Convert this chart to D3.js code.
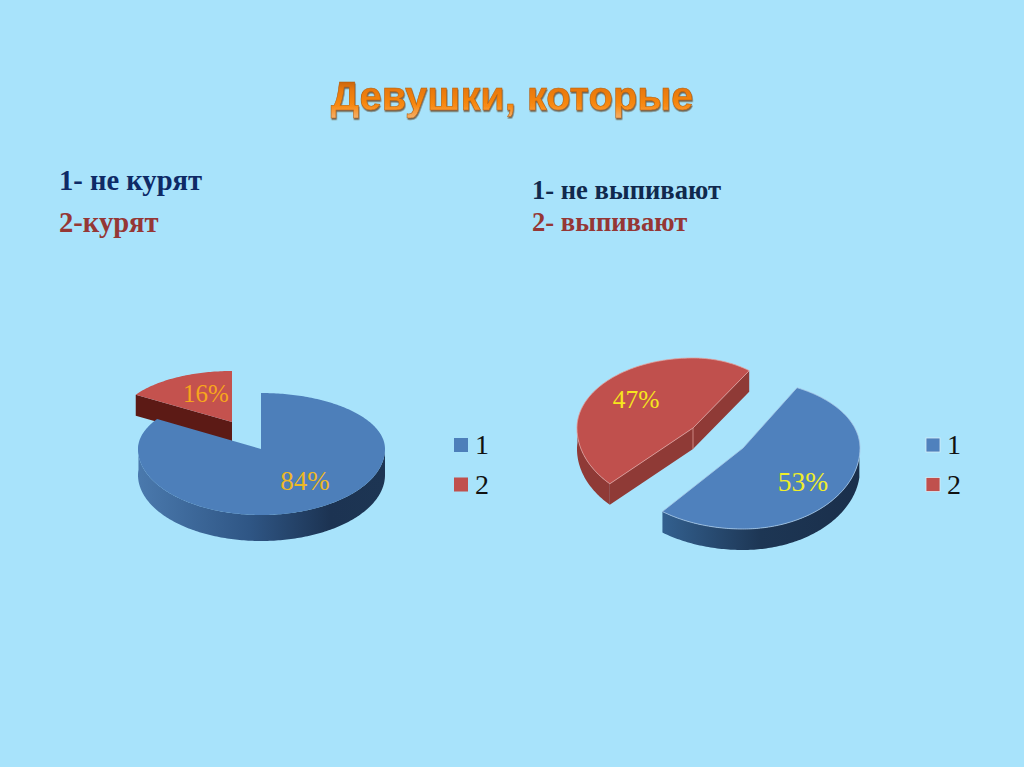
<!DOCTYPE html>
<html><head><meta charset="utf-8">
<script src="https://cdnjs.cloudflare.com/ajax/libs/d3/7.8.5/d3.min.js"></script>
<style>html,body{margin:0;padding:0;background:#a8e3fb;overflow:hidden}svg{display:block}</style>
</head><body><div id="c"></div>
<script>
const titleText = "Девушки, которые";
const categories = ["1", "2"];
const smokingValues = [84, 16];
const drinkingValues = [53, 47];
const smokingNotes = ["1- не курят", "2-курят"];
const drinkingNotes = ["1- не выпивают", "2- выпивают"];

const W = 1024, H = 767, rad = Math.PI / 180;
const svg = d3.select("#c").append("svg").attr("width", W).attr("height", H);
const defs = svg.append("defs");
function grad(id, stops, vertical) {
  const g = defs.append("linearGradient").attr("id", id).attr("x1", 0).attr("y1", 0)
    .attr("x2", vertical ? 0 : 1).attr("y2", vertical ? 1 : 0);
  stops.forEach(s => g.append("stop").attr("offset", s[0]).attr("stop-color", s[1]));
}
grad("wall1", [[0, "#4a79ad"], [.45, "#2f5685"], [.78, "#1c3352"], [1, "#1d3553"]]);
grad("wall2", [[0, "#33608f"], [.5, "#1d3654"], [1, "#1a2f4b"]]);
grad("titleFill", [[0, "#a9530f"], [.35, "#e8780e"], [.72, "#f98a12"], [1, "#f3b06c"]], true);
const f = defs.append("filter").attr("id", "ts").attr("x", "-5%").attr("y", "-20%").attr("width", "110%").attr("height", "150%");
f.append("feDropShadow").attr("dx", .6).attr("dy", 1.6).attr("stdDeviation", .7).attr("flood-color", "#5c3a1a").attr("flood-opacity", .75);

svg.append("rect").attr("width", W).attr("height", H).attr("fill", "#a8e3fb");

svg.append("text").attr("x", 512).attr("y", 110).attr("text-anchor", "middle")
  .attr("font-family", "Liberation Sans").attr("font-weight", 700).attr("font-size", 39.8)
  .attr("fill", "url(#titleFill)").attr("stroke", "#b5600f").attr("stroke-width", .5)
  .attr("filter", "url(#ts)").text(titleText);

function notes(list, x, ys, size, colors) {
  svg.selectAll(null).data(list).join("text")
    .attr("x", x).attr("y", (d, i) => ys[i])
    .attr("font-family", "Liberation Serif").attr("font-weight", 700).attr("font-size", size)
    .attr("fill", (d, i) => colors[i]).text(d => d);
}
notes(smokingNotes, 59, [190, 232], 28.6, ["#0e2a66", "#953735"]);
notes(drinkingNotes, 532, [199, 231], 26.6, ["#10294d", "#953735"]);

const line = d3.line();
const pie = d3.pie().sort(null).startAngle(0).endAngle(2 * Math.PI);

// one projected slice: g carries the ellipse half-axes that foreshorten the disc
function proj(g) {
  const sx = d3.scaleLinear().domain([-1, 0, 1]).range([g.x - g.rxL, g.x, g.x + g.rxR]);
  const sy = d3.scaleLinear().domain([-1, 0, 1]).range([g.y + g.ryB, g.y, g.y - g.ryT]);
  return a => [sx(Math.sin(a)), sy(Math.cos(a))];
}
function arcPts(p, a0, a1) {
  const n = Math.max(2, Math.ceil(Math.abs(a1 - a0) / (1 * rad)));
  return d3.range(n + 1).map(i => p(a0 + (a1 - a0) * i / n));
}
const down = (pts, d) => pts.map(q => [q[0], q[1] + d]);
function wall(top, d, fill) {
  svg.append("path").attr("d", line(top.concat(down(top, d).reverse())) + "Z").attr("fill", fill);
}

function slice(datum, g) {
  const p = proj(g), a0 = datum.startAngle + g.rot * rad, a1 = datum.endAngle + g.rot * rad;
  const apex = [g.x, g.y], A = p(a0), B = p(a1);
  if (g.cutWall) wall([A, apex, B].slice(g.cutFrom || 0), g.depth, g.cutWall);
  (g.outer || []).forEach(o => {
    const lo = Math.max(a0, o[0] * rad), hi = Math.min(a1, o[1] * rad);
    wall(arcPts(p, lo, hi), g.depth, o[2]);
  });
  if (g.cutWall && g.apexLine)
    svg.append("path").attr("d", line([apex, [apex[0], apex[1] + g.depth]])).attr("stroke", "#d99a96").attr("stroke-width", .8).attr("fill", "none");
  const outline = [apex].concat(arcPts(p, a0, a1));
  svg.append("path").attr("d", line(outline) + "Z").attr("fill", g.fill)
    .attr("stroke", g.edge || "none").attr("stroke-width", g.edge ? .8 : 0).attr("stroke-linejoin", "round");
}

const sPie = pie(smokingValues), dPie = pie(drinkingValues);

// left chart
slice(sPie[1], { x: 232, y: 422, rxL: 114, rxR: 114, ryT: 51, ryB: 51, rot: 0, depth: 21,
  fill: "#c4524e", cutWall: "#5c1a15" });
slice(sPie[0], { x: 261, y: 449, rxL: 123, rxR: 124, ryT: 56, ryB: 66, rot: 0, depth: 26,
  fill: "#4d7fba", outer: [[90, 275, "url(#wall1)"]] });

// right chart
slice(dPie[1], { x: 693, y: 428, rxL: 116, rxR: 98, ryT: 70, ryB: 80, rot: 35, depth: 21,
  fill: "#c0504d", edge: "#e2a19d", cutWall: "#8f3a36", apexLine: true, outer: [[200, 275, "#8f3a36"]] });
slice(dPie[0], { x: 743, y: 448, rxL: 130, rxR: 117, ryT: 68, ryB: 81, rot: 27.5, depth: 21,
  fill: "#4f81bd", edge: "#a9c8e6", outer: [[96, 225, "url(#wall2)"]] });

function pct(v, x, y, size, color) {
  svg.append("text").attr("x", x).attr("y", y).attr("text-anchor", "middle")
    .attr("font-family", "Liberation Serif").attr("font-size", size).attr("fill", color).text(v + "%");
}
pct(smokingValues[0], 305, 490, 27, "#eeb827");
pct(smokingValues[1], 206, 402, 25, "#f7a61c");
pct(drinkingValues[1], 636, 408, 25.5, "#f6e61d");
pct(drinkingValues[0], 803, 491, 27.5, "#f0ee2a");

function legend(x, colors, stroke) {
  const y = d3.scalePoint().domain(categories).range([445, 484.5]);
  const g = svg.selectAll(null).data(categories).join("g");
  g.append("rect").attr("x", x).attr("y", d => y(d) - 7).attr("width", 14).attr("height", 14)
    .attr("fill", (d, i) => colors[i]).attr("stroke", stroke || "none").attr("stroke-width", stroke ? .8 : 0);
  g.append("text").attr("x", x + 21).attr("y", d => y(d) + 9)
    .attr("font-family", "Liberation Serif").attr("font-size", 28).attr("fill", "#111").text(d => d);
}
legend(454, ["#4d7fba", "#c0504d"]);
legend(926, ["#4f81bd", "#c0504d"], "#d8eef8");
</script></body></html>
